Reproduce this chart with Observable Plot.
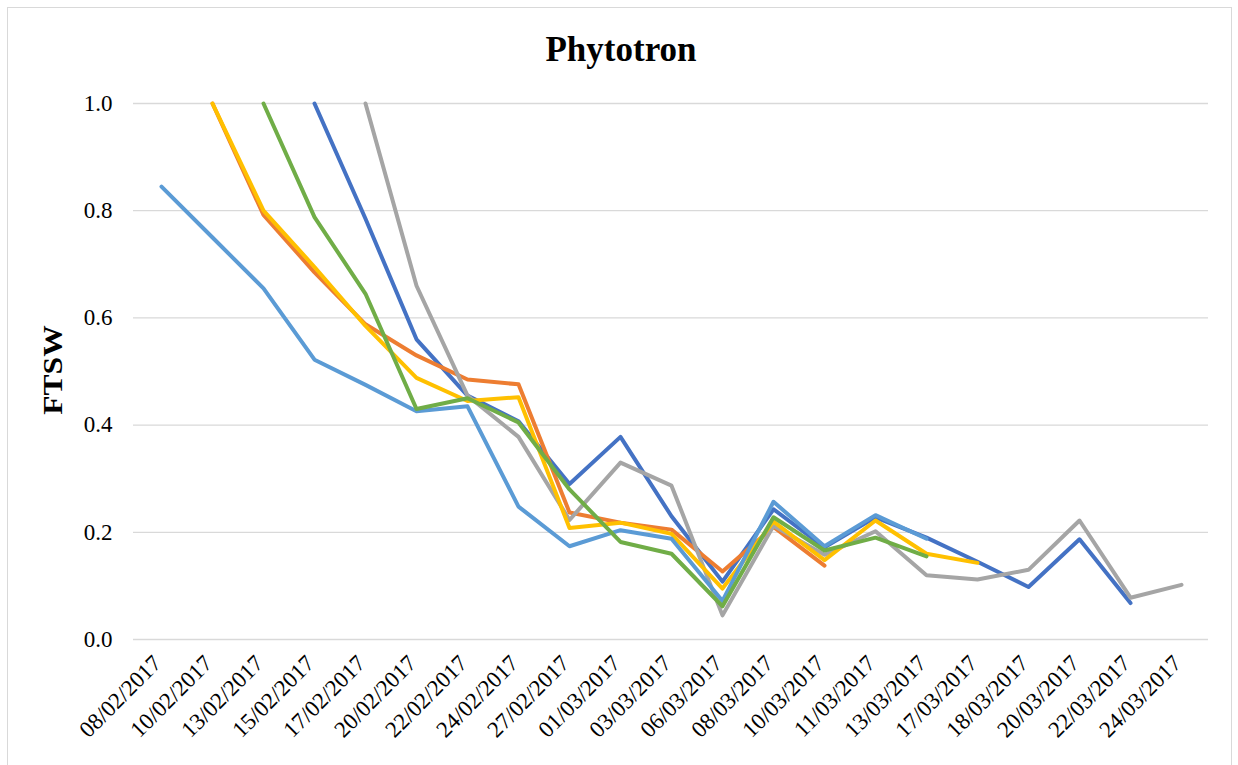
<!DOCTYPE html>
<html>
<head>
<meta charset="utf-8">
<script src="https://cdn.jsdelivr.net/npm/d3@7"></script>
<script src="https://cdn.jsdelivr.net/npm/@observablehq/plot@0.6"></script>
<style>
  html, body { margin: 0; padding: 0; background: #fff; }
  #wrap { position: relative; width: 1238px; height: 765px; overflow: hidden; background: #fff; font-family: "Liberation Serif", "Times New Roman", serif; }
  #frame { position: absolute; left: 7px; top: 7px; width: 1225px; height: 800px; border: 1.5px solid #d9d9d9; box-sizing: border-box; }
  #title { position: absolute; left: 0; width: 1242px; top: 30px; text-align: center; font-weight: bold; font-size: 35px; color: #000; }
  #ylabel { position: absolute; left: 53px; top: 370px; transform: translate(-50%, -50%) rotate(-90deg) scale(1.05, 0.92); font-weight: bold; font-size: 30px; color: #000; white-space: nowrap; }
  #chart { position: absolute; left: 0; top: 0; }
</style>
</head>
<body>
<div id="wrap">
  <div id="frame"></div>
  <div id="chart"></div>
  <div id="title">Phytotron</div>
  <div id="ylabel">FTSW</div>
</div>
<script>
const dates = ["08/02/2017","10/02/2017","13/02/2017","15/02/2017","17/02/2017","20/02/2017","22/02/2017","24/02/2017","27/02/2017","01/03/2017","03/03/2017","06/03/2017","08/03/2017","10/03/2017","11/03/2017","13/03/2017","17/03/2017","18/03/2017","20/03/2017","22/03/2017","24/03/2017"];

const yTicks = [0, 0.2, 0.4, 0.6, 0.8, 1.0];

const seriesNames = ["S1", "S2", "S3", "S4", "S5", "S6"];
const seriesColors = ["#4472C4", "#ED7D31", "#A5A5A5", "#FFC000", "#5B9BD5", "#70AD47"];

const s1 = [null, null, null, 1.0, 0.785, 0.56, 0.455, 0.407, 0.29, 0.378, 0.23, 0.108, 0.243, 0.172, 0.228, 0.19, 0.145, 0.098, 0.187, 0.068, null];
const s2 = [null, 1.0, 0.792, 0.685, 0.588, 0.53, 0.485, 0.476, 0.237, 0.218, 0.205, 0.127, 0.21, 0.138, null, null, null, null, null, null, null];
const s3 = [null, null, null, null, 1.0, 0.66, 0.455, 0.378, 0.223, 0.33, 0.287, 0.045, 0.212, 0.158, 0.202, 0.12, 0.112, 0.13, 0.222, 0.078, 0.102];
const s4 = [null, 1.0, 0.8, 0.695, 0.585, 0.488, 0.445, 0.452, 0.208, 0.218, 0.197, 0.095, 0.22, 0.148, 0.222, 0.16, 0.143, null, null, null, null];
const s5 = [0.845, 0.75, 0.655, 0.522, 0.475, 0.426, 0.435, 0.248, 0.174, 0.204, 0.188, 0.072, 0.257, 0.174, 0.232, 0.188, null, null, null, null, null];
const s6 = [null, null, 1.0, 0.788, 0.645, 0.43, 0.45, 0.405, 0.28, 0.182, 0.16, 0.062, 0.228, 0.166, 0.19, 0.155, null, null, null, null, null];

const allSeries = [s1, s2, s3, s4, s5, s6];
const rows = [];
allSeries.forEach((vals, k) => {
  vals.forEach((v, i) => {
    if (v != null) rows.push({series: seriesNames[k], date: dates[i], value: v});
  });
});

const chart = Plot.plot({
  width: 1238,
  height: 765,
  marginLeft: 133,
  marginRight: 30,
  marginTop: 103,
  marginBottom: 126,
  style: {fontFamily: "Liberation Serif, Times New Roman, serif", fontSize: "23px", color: "#000", background: "transparent", overflow: "visible"},
  x: {type: "point", domain: dates, padding: 0.5},
  y: {domain: [0, 1], ticks: yTicks},
  color: {domain: seriesNames, range: seriesColors},
  marks: [
    Plot.gridY(yTicks, {stroke: "#d9d9d9", strokeOpacity: 1, strokeWidth: 1.3}),
    Plot.axisY(yTicks, {tickSize: 0, tickPadding: 21, tickFormat: d3.format(".1f"), label: null, fill: "#000", fontSize: 23}),
    Plot.axisX(dates, {tickSize: 0, tickPadding: 20, tickRotate: -45, label: null, fill: "#000", fontSize: 23, dx: -4}),
    Plot.line(rows, {x: "date", y: "value", z: "series", stroke: "series", strokeWidth: 4, strokeLinejoin: "round", strokeLinecap: "round"})
  ]
});
document.getElementById("chart").appendChild(chart);
</script>
</body>
</html>
